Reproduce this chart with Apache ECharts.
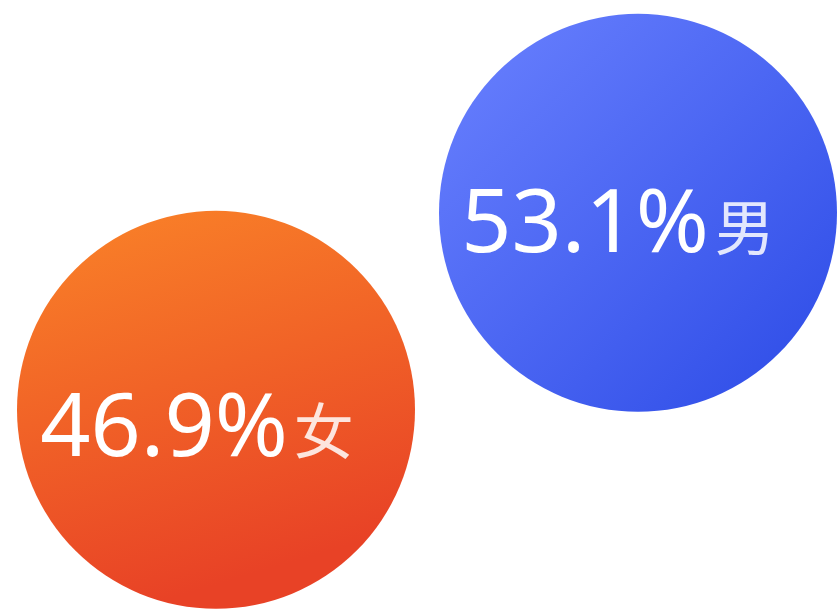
<!DOCTYPE html>
<html>
<head>
<meta charset="utf-8">
<script src="https://cdn.jsdelivr.net/npm/echarts@6/dist/echarts.min.js"></script>
<style>html,body{margin:0;padding:0;background:#fff}#c{width:837px;height:610px}</style>
</head>
<body>
<div id="c"></div>
<script>
var categories = ['女', '男'];
var values = [46.9, 53.1];

var gradients = [
  new echarts.graphic.LinearGradient(0, 0, 0.3, 1, [
    { offset: 0, color: '#fa8428' },
    { offset: 1, color: '#e84226' }
  ]),
  new echarts.graphic.LinearGradient(0, 0, 1, 1, [
    { offset: 0, color: '#6b82ff' },
    { offset: 1, color: '#2b4ae6' }
  ])
];
var labelShift = [[-19, 21], [-20, 14]];

var chart = echarts.init(document.getElementById('c'));
chart.setOption({
  animation: false,
  grid: { left: 216, top: 0, width: 422, height: 610 },
  xAxis: { type: 'category', data: categories, show: false, boundaryGap: false },
  yAxis: { type: 'value', min: 40.6, max: 59.8, show: false },
  series: [{
    type: 'scatter',
    symbol: 'circle',
    symbolSize: 398,
    data: values.map(function (v, i) {
      return {
        value: [categories[i], v],
        itemStyle: { color: gradients[i], opacity: 1 },
        label: { offset: labelShift[i] }
      };
    }),
    label: {
      show: true,
      position: 'inside',
      formatter: function (p) {
        return '{a|' + p.value[1].toFixed(1) + '%}{b|' + p.value[0] + '}';
      },
      rich: {
        a: { fontSize: 88, color: '#ffffff', fontFamily: 'Noto Sans, sans-serif' },
        b: { fontSize: 60, color: 'rgba(255,255,255,0.85)', fontFamily: 'Noto Sans CJK SC', padding: [0, 0, 0, 6] }
      }
    }
  }]
});
</script>
</body>
</html>
